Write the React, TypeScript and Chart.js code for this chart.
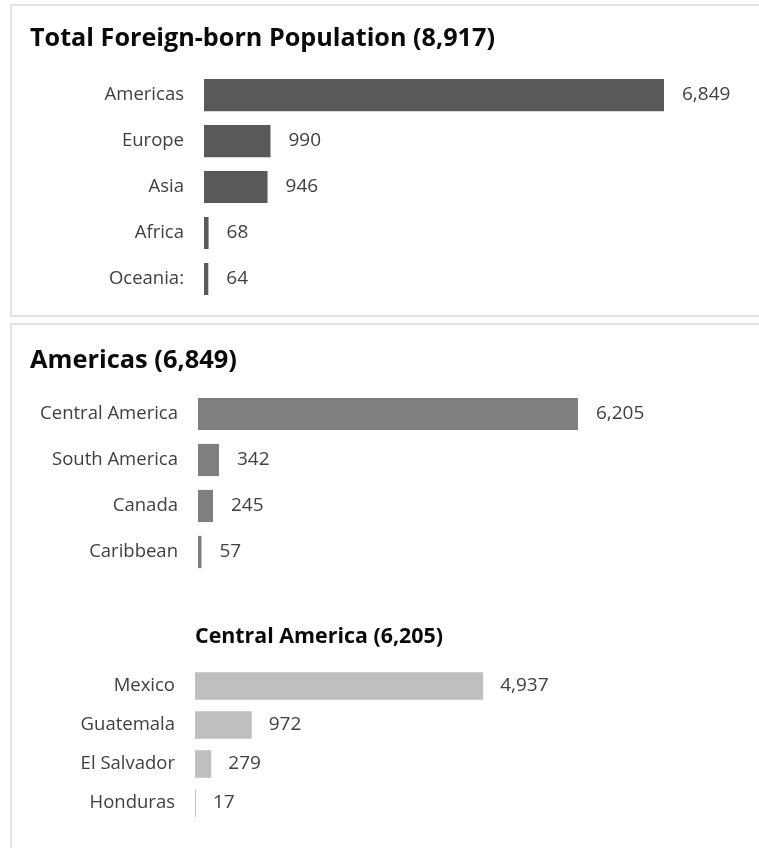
import React, { useEffect, useRef } from "react";
import { Chart, registerables } from "chart.js";

Chart.register(...registerables);

// ---- data ----
const regionLabels = ["Americas", "Europe", "Asia", "Africa", "Oceania:"];
const regionValues = [6849, 990, 946, 68, 64];

const americasLabels = ["Central America", "South America", "Canada", "Caribbean"];
const americasValues = [6205, 342, 245, 57];

const centralLabels = ["Mexico", "Guatemala", "El Salvador", "Honduras"];
const centralValues = [4937, 972, 279, 17];

const axisMax = 8000;

const fmt = (n: number) => n.toLocaleString("en-US");
const sum = (a: number[]) => a.reduce((s, v) => s + v, 0);

const FONT = "'Open Sans', Lato, sans-serif";

const valueLabels = {
  id: "valueLabels",
  afterDatasetsDraw(chart: any, _args: any, opts: any) {
    const ctx = chart.ctx;
    const meta = chart.getDatasetMeta(0);
    const data = chart.data.datasets[0].data as number[];
    ctx.save();
    ctx.font = `${opts.size}px ${FONT}`;
    ctx.fillStyle = opts.color;
    ctx.textAlign = "left";
    ctx.textBaseline = "middle";
    meta.data.forEach((bar: any, i: number) => {
      ctx.fillText(fmt(data[i]), bar.x + opts.gap, bar.y);
    });
    ctx.restore();
  },
};

type BarProps = {
  labels: string[];
  values: number[];
  color: string;
  title: string;
  titleSize: number;
  titlePad: { top: number; bottom: number };
  titleFull: boolean;
  pad: { left: number; right: number; top: number; bottom: number };
  axisWidth: number;
  left: number;
  top: number;
  width: number;
  height: number;
  labelSize: number;
  valueSize: number;
  gap: number;
};

function BarChart(p: BarProps) {
  const ref = useRef<HTMLCanvasElement | null>(null);
  useEffect(() => {
    if (!ref.current) return;
    const chart = new Chart(ref.current, {
      type: "bar",
      data: {
        labels: p.labels,
        datasets: [
          {
            data: p.values,
            backgroundColor: p.color,
            borderWidth: 0,
            barPercentage: 0.7,
            categoryPercentage: 1,
          },
        ],
      },
      plugins: [valueLabels as any],
      options: {
        indexAxis: "y",
        responsive: false,
        animation: false,
        layout: { padding: p.pad },
        scales: {
          x: { display: false, min: 0, max: axisMax },
          y: {
            grid: { display: false, drawTicks: false },
            border: { display: false },
            ticks: {
              padding: 20,
              color: "#404040",
              font: { family: FONT, size: p.labelSize },
            },
            afterFit: (scale: any) => {
              scale.width = p.axisWidth;
              scale.paddingTop = 0;
              scale.paddingBottom = 0;
            },
          },
        },
        plugins: {
          legend: { display: false },
          tooltip: { enabled: false },
          title: {
            display: true,
            text: p.title,
            align: "start",
            fullSize: p.titleFull,
            color: "#0a0a0a",
            font: { family: FONT, size: p.titleSize, weight: "bold" },
            padding: p.titlePad,
          },
          valueLabels: { size: p.valueSize, color: "#404040", gap: p.gap },
        } as any,
      },
    });
    return () => chart.destroy();
  }, []);
  return (
    <canvas
      ref={ref}
      width={p.width}
      height={p.height}
      style={{ position: "absolute", left: p.left, top: p.top, width: p.width, height: p.height }}
    />
  );
}

export default function App() {
  const panel: React.CSSProperties = {
    position: "absolute",
    left: 10,
    width: 800,
    boxSizing: "border-box",
    border: "2px solid #e4e4e4",
    background: "#fff",
  };
  return (
    <div style={{ position: "absolute", left: 0, top: 0, width: 759, height: 848, overflow: "hidden", background: "#fff" }}>
      <div style={{ ...panel, top: 4, height: 313 }} />
      <div style={{ ...panel, top: 323, height: 600 }} />
      <BarChart
        labels={regionLabels}
        values={regionValues}
        color="#595959"
        title={`Total Foreign-born Population (${fmt(sum(regionValues))})`}
        titleSize={25.2}
        titlePad={{ top: 17.9, bottom: 17.9 }}
        titleFull={true}
        pad={{ left: 18, right: 17.7, top: 0, bottom: 13 }}
        axisWidth={174}
        left={12}
        top={6}
        width={747}
        height={309}
        labelSize={18.5}
        valueSize={19}
        gap={18}
      />
      <BarChart
        labels={americasLabels}
        values={americasValues}
        color="#7f7f7f"
        title={`Americas (${fmt(sum(americasValues))})`}
        titleSize={25.4}
        titlePad={{ top: 20.8, bottom: 14.7 }}
        titleFull={true}
        pad={{ left: 18, right: 71.1, top: 0, bottom: 15 }}
        axisWidth={168}
        left={12}
        top={325}
        width={747}
        height={265}
        labelSize={18.5}
        valueSize={19}
        gap={18}
      />
      <BarChart
        labels={centralLabels}
        values={centralValues}
        color="#bfbfbf"
        title={`Central America (${fmt(sum(centralValues))})`}
        titleSize={21.4}
        titlePad={{ top: 34.2, bottom: 16.6 }}
        titleFull={false}
        pad={{ left: 0, right: 97, top: 0, bottom: 23.5 }}
        axisWidth={183}
        left={12}
        top={590}
        width={747}
        height={256}
        labelSize={18.5}
        valueSize={19}
        gap={17}
      />
    </div>
  );
}
